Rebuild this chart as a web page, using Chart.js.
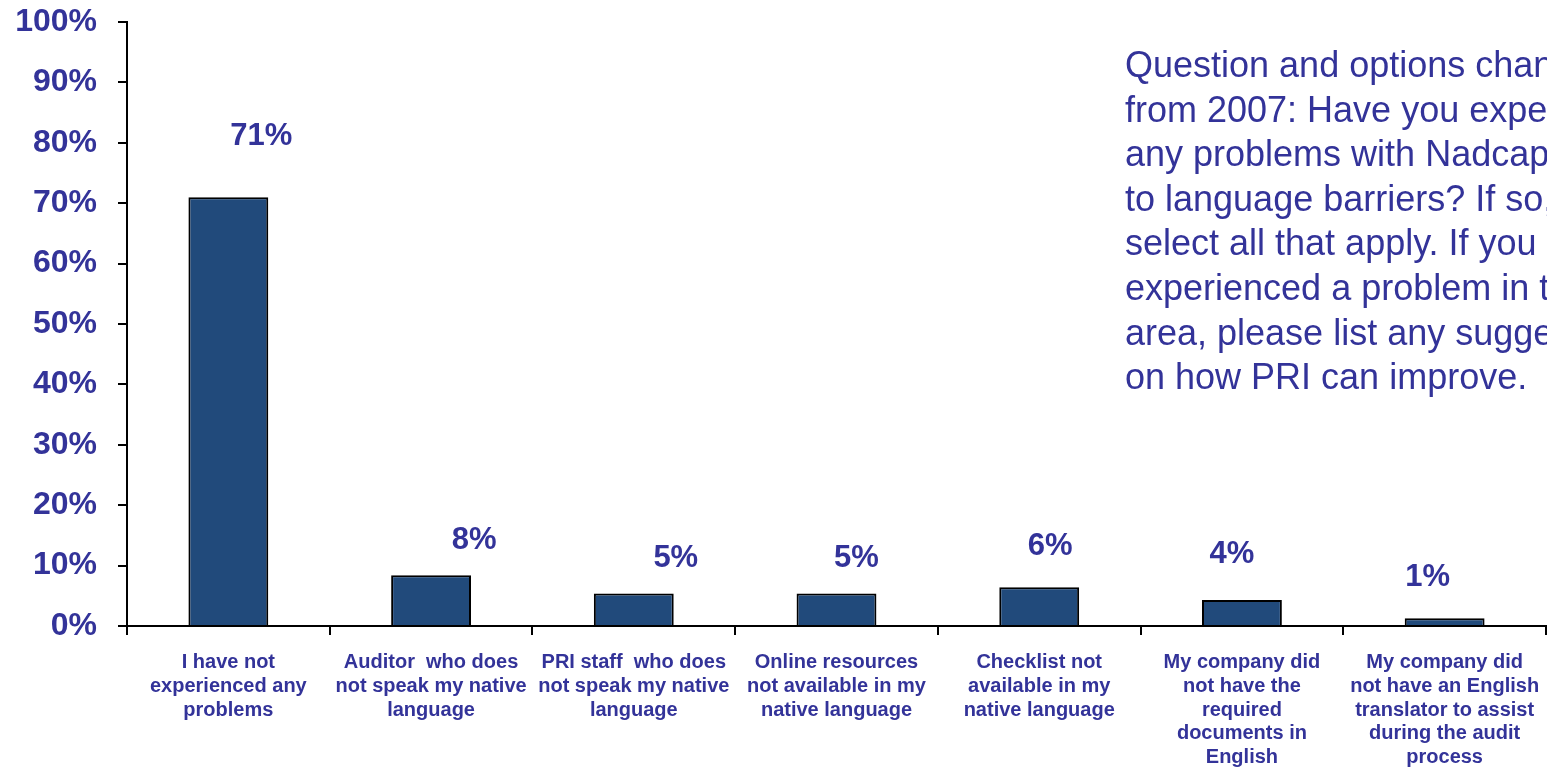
<!DOCTYPE html>
<html lang="en">
<head>
    <meta charset="UTF-8">
    <title>Language barriers</title>
    <script src="https://cdn.jsdelivr.net/npm/chart.js"></script>
    <style>
        body {
            margin: 0;
            padding: 0;
            background: #fff;
            overflow: hidden;
        }
        #chart {
            display: block;
        }
    </style>
</head>
<body>
    <canvas id="chart" width="1547" height="770"></canvas>

    <script>
        // categories, wrapped like the original slide
        const categories = [
            ['I have not', 'experienced any', 'problems'],
            ['Auditor  who does', 'not speak my native', 'language'],
            ['PRI staff  who does', 'not speak my native', 'language'],
            ['Online resources', 'not available in my', 'native language'],
            ['Checklist not', 'available in my', 'native language'],
            ['My company did', 'not have the', 'required', 'documents in', 'English'],
            ['My company did', 'not have an English', 'translator to assist', 'during the audit', 'process']
        ];
        // percent of respondents
        const shares = [71, 8.4, 5.4, 5.4, 6.4, 4.3, 1.3];
        const yTicks = [0, 10, 20, 30, 40, 50, 60, 70, 80, 90, 100];

        // value labels were nudged by hand on the slide
        const labelShiftX = [33, 43, 42, 20, 11, -10, -17];
        const labelShiftY = [-61, -35, -35, -35, -41, -46, -41];

        const noteLines = [
            'Question and options changed',
            'from 2007: Have you experienced',
            'any problems with Nadcap due',
            'to language barriers? If so,',
            'select all that apply. If you have',
            'experienced a problem in this',
            'area, please list any suggestions',
            'on how PRI can improve.'
        ];

        const FONT = "'Liberation Sans', Arial, sans-serif";
        const TEXT_COLOR = '#333399';

        const valueLabels = {
            id: 'valueLabels',
            afterDatasetsDraw(chart) {
                const ctx = chart.ctx;
                const meta = chart.getDatasetMeta(0);
                ctx.save();
                ctx.font = 'bold 31px ' + FONT;
                ctx.fillStyle = TEXT_COLOR;
                ctx.textAlign = 'center';
                ctx.textBaseline = 'middle';
                meta.data.forEach((bar, i) => {
                    ctx.fillText(Math.round(shares[i]) + '%', bar.x + labelShiftX[i], bar.y + labelShiftY[i]);
                });
                ctx.restore();
            }
        };

        const noteBox = {
            id: 'noteBox',
            afterDraw(chart) {
                const ctx = chart.ctx;
                ctx.save();
                ctx.font = '36px ' + FONT;
                ctx.fillStyle = TEXT_COLOR;
                ctx.textAlign = 'left';
                ctx.textBaseline = 'alphabetic';
                noteLines.forEach((line, i) => {
                    ctx.fillText(line, 1125, 77 + i * 44.6);
                });
                ctx.restore();
            }
        };

        new Chart(document.getElementById('chart'), {
            type: 'bar',
            data: {
                labels: categories,
                datasets: [{
                    data: shares,
                    backgroundColor: '#214a7b',
                    borderColor: '#000',
                    borderWidth: 2,
                    barPercentage: 0.394,
                    categoryPercentage: 1
                }]
            },
            options: {
                responsive: false,
                animation: false,
                layout: {
                    padding: { top: 22, right: 1, left: 0, bottom: 0 }
                },
                plugins: {
                    legend: { display: false },
                    tooltip: { enabled: false }
                },
                scales: {
                    x: {
                        grid: {
                            offset: true,
                            drawOnChartArea: false,
                            drawTicks: true,
                            tickLength: 9,
                            color: '#000',
                            lineWidth: 2
                        },
                        border: { display: true, color: '#000', width: 2 },
                        ticks: {
                            autoSkip: false,
                            maxRotation: 0,
                            minRotation: 0,
                            padding: 16,
                            color: TEXT_COLOR,
                            font: { family: FONT, size: 20, weight: 'bold', lineHeight: 1.18 }
                        },
                        afterFit(scale) {
                            scale.height = 144;
                            scale.paddingLeft = 0;
                            scale.paddingRight = 0;
                        }
                    },
                    y: {
                        min: 0,
                        max: 100,
                        afterBuildTicks(scale) {
                            scale.ticks = yTicks.map(v => ({ value: v }));
                        },
                        grid: {
                            drawOnChartArea: false,
                            drawTicks: true,
                            tickLength: 9,
                            color: '#000',
                            lineWidth: 2
                        },
                        border: { display: true, color: '#000', width: 2 },
                        ticks: {
                            padding: 21,
                            color: TEXT_COLOR,
                            font: { family: FONT, size: 32, weight: 'bold' },
                            callback: v => v + '%'
                        },
                        afterFit(scale) {
                            scale.width = 127;
                            scale.paddingTop = 0;
                            scale.paddingBottom = 0;
                        }
                    }
                }
            },
            plugins: [valueLabels, noteBox]
        });
    </script>
</body>
</html>
